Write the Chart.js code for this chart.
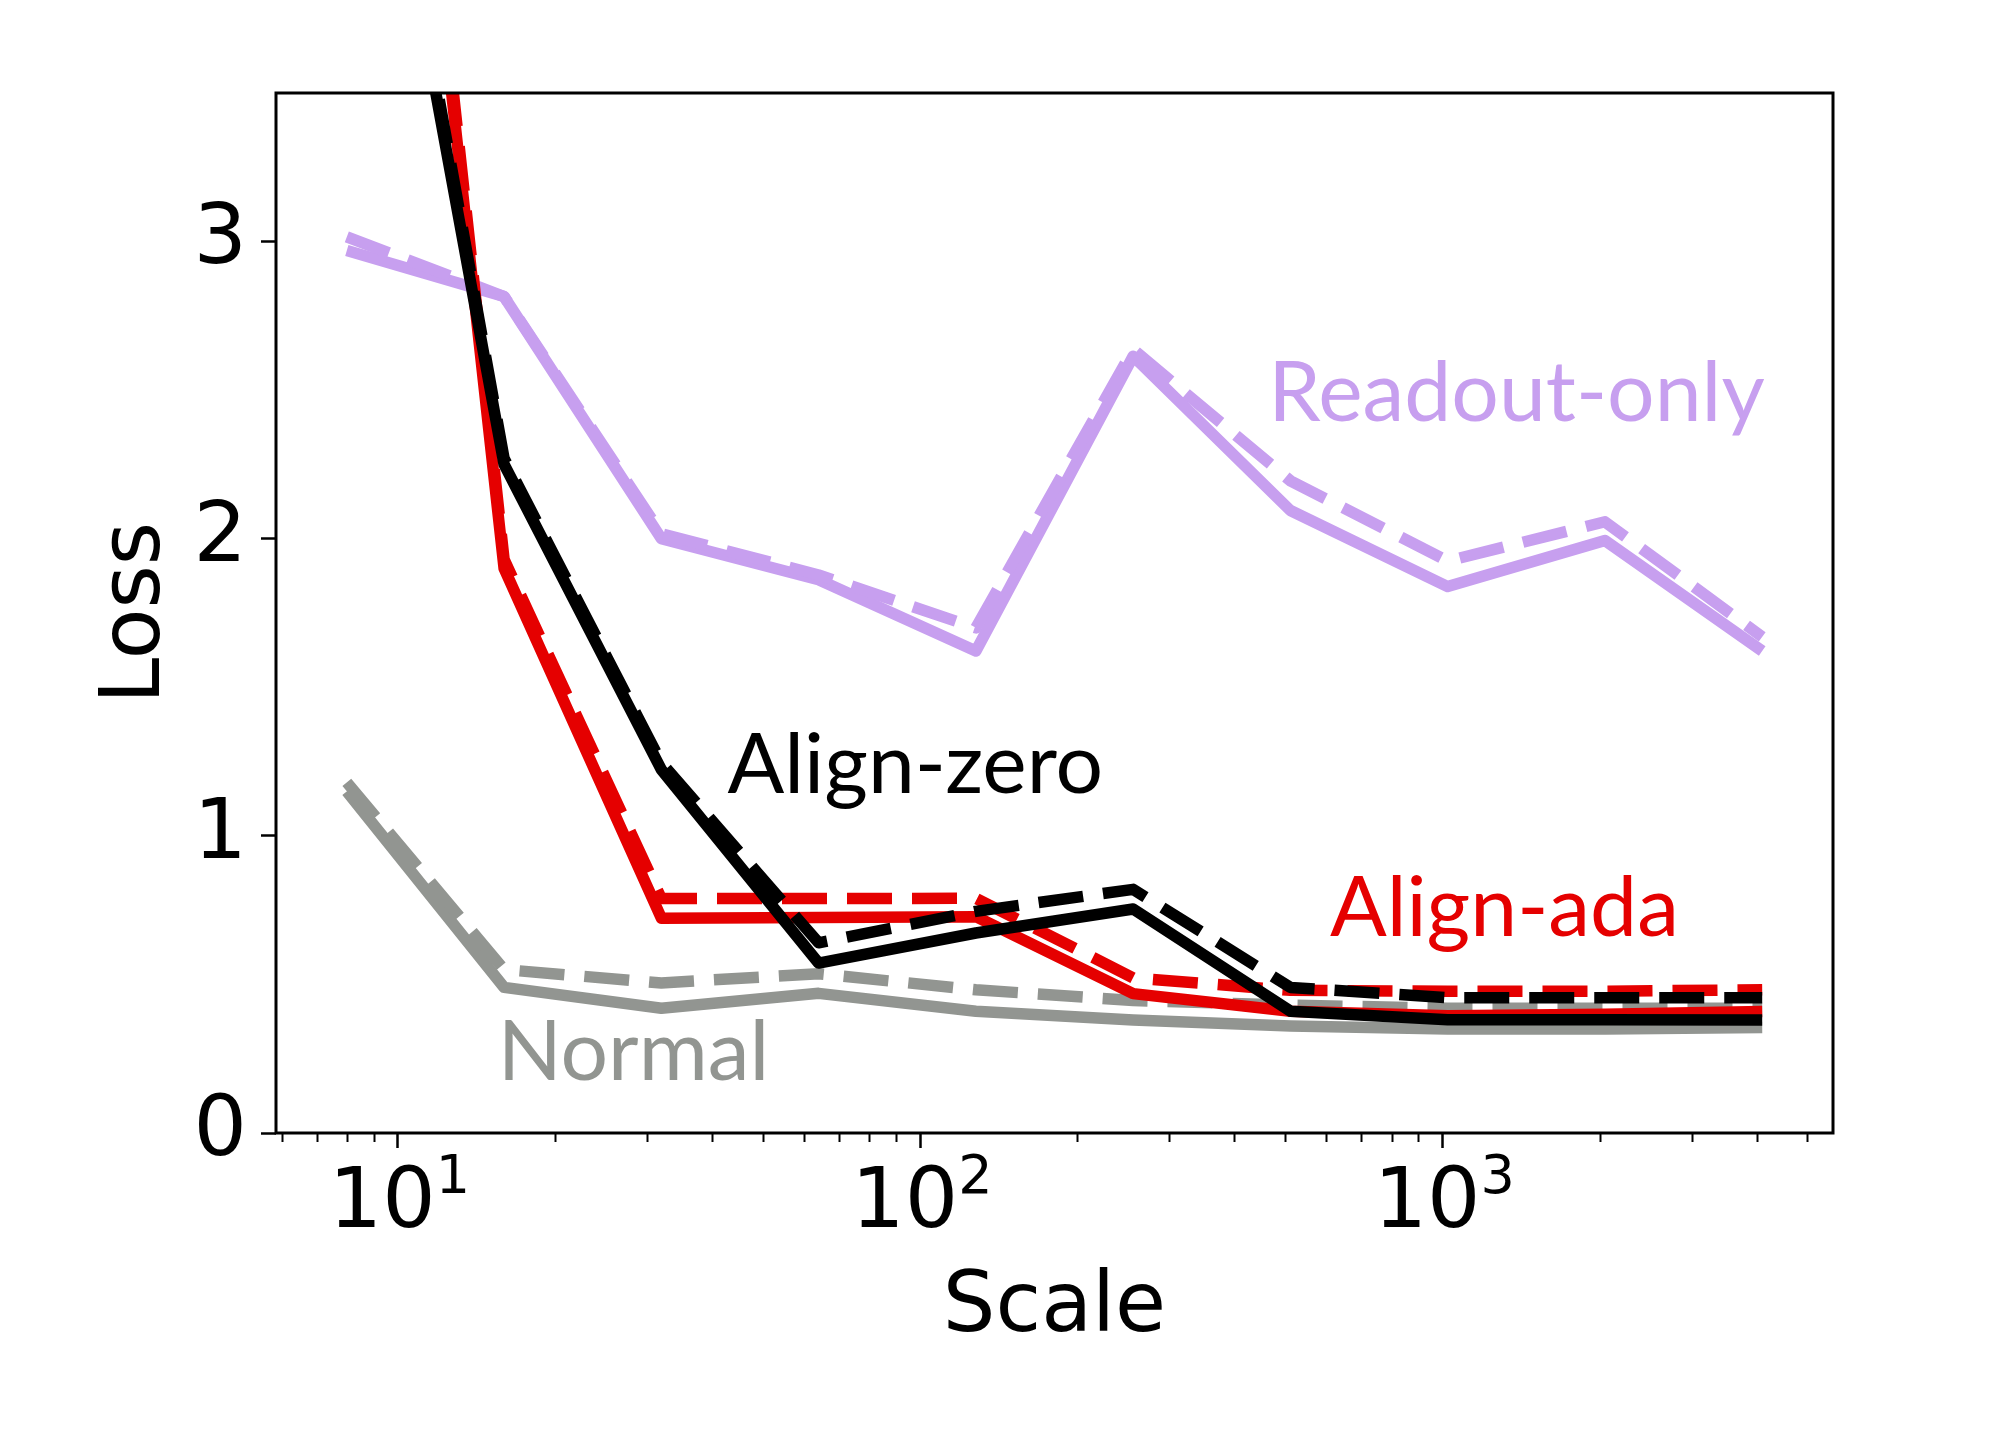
<!DOCTYPE html>
<html>
<head>
<meta charset="utf-8">
<script src="https://cdn.jsdelivr.net/npm/chart.js@4.4.1/dist/chart.umd.min.js"></script>
<style>
  html, body { margin: 0; padding: 0; background: #fff; }
  #wrap { width: 2004px; height: 1441px; }
</style>
</head>
<body>
<div id="wrap"><canvas id="grafico" width="2004" height="1441"></canvas></div>
<script>
// datos (Loss vs Scale, eje x logarítmico)
const scales = [8, 16, 32, 64, 128, 256, 512, 1024, 2048, 4096];

const normalSolid   = [1.15, 0.49, 0.42, 0.47, 0.41, 0.38, 0.36, 0.35, 0.35, 0.355];
const normalDashed  = [1.18, 0.55, 0.505, 0.536, 0.482, 0.446, 0.43, 0.42, 0.42, 0.42];
const readoutSolid  = [2.97, 2.815, 2.0, 1.862, 1.622, 2.614, 2.095, 1.839, 1.994, 1.622];
const readoutDashed = [3.016, 2.815, 2.017, 1.878, 1.70, 2.637, 2.195, 1.925, 2.057, 1.67];
const adaSolid      = [6.7, 1.90, 0.723, 0.725, 0.728, 0.469, 0.41, 0.395, 0.40, 0.409];
const adaDashed     = [6.8, 1.93, 0.789, 0.789, 0.79, 0.522, 0.48, 0.477, 0.477, 0.482];
const zeroSolid     = [5.13, 2.25, 1.223, 0.572, 0.673, 0.754, 0.41, 0.381, 0.381, 0.38];
const zeroDashed    = [5.2, 2.27, 1.246, 0.64, 0.746, 0.82, 0.49, 0.455, 0.455, 0.455];

// ticks
const yTicks = [0, 1, 2, 3];
const xMajor = [10, 100, 1000];
const xMinor = [6, 7, 8, 9, 20, 30, 40, 50, 60, 70, 80, 90,
                200, 300, 400, 500, 600, 700, 800, 900,
                2000, 3000, 4000, 5000];
const xMajorExp = ['1', '2', '3'];

// etiquetas dentro del gráfico
const labelTexts = ['Readout-only', 'Align-zero', 'Align-ada', 'Normal'];
const labelX = [474.8, 43.8, 623, 15.9];
const labelY = [2.397, 1.145, 0.662, 0.177];

const LAVENDER = '#c79fef';
const RED = '#e50000';
const GREY = '#929591';
const BLACK = '#000000';
const labelColors = [LAVENDER, BLACK, RED, GREY];

const AXIS_FONT = 'DejaVu Sans';
const DASH = [45, 20];

function serie(values, color, dashed){
  return {
    data: scales.map((s, i) => ({ x: s, y: values[i] })),
    borderColor: color,
    borderWidth: 11.5,
    borderDash: dashed ? DASH : [],
    borderCapStyle: 'butt',
    borderJoinStyle: 'round',
    pointRadius: 0,
    tension: 0,
    fill: false,
    clip: 0
  };
}

// el primer dataset queda encima
const datasets = [
  serie(zeroDashed, BLACK, true),
  serie(zeroSolid, BLACK, false),
  serie(adaDashed, RED, true),
  serie(adaSolid, RED, false),
  serie(readoutDashed, LAVENDER, true),
  serie(readoutSolid, LAVENDER, false),
  serie(normalDashed, GREY, true),
  serie(normalSolid, GREY, false)
];

// marco, ticks del eje x, etiquetas 10^n y textos
const decor = {
  id: 'decor',
  afterDatasetsDraw(chart){
    const { ctx, chartArea: a, scales: { x, y } } = chart;
    ctx.save();

    // textos de las series
    ctx.font = '84px Lato';
    ctx.textAlign = 'left';
    ctx.textBaseline = 'alphabetic';
    labelTexts.forEach((t, i) => {
      ctx.fillStyle = labelColors[i];
      ctx.fillText(t, x.getPixelForValue(labelX[i]) - 5, y.getPixelForValue(labelY[i]));
    });

    // marco
    ctx.strokeStyle = '#000';
    ctx.lineWidth = 3;
    ctx.strokeRect(a.left, a.top, a.right - a.left, a.bottom - a.top);

    // ticks x
    const tick = (v, len, w) => {
      const px = Math.round(x.getPixelForValue(v)) + 0.5;
      ctx.lineWidth = w;
      ctx.beginPath();
      ctx.moveTo(px, a.bottom);
      ctx.lineTo(px, a.bottom + len);
      ctx.stroke();
    };
    xMinor.forEach(v => tick(v, 9, 2));
    xMajor.forEach(v => tick(v, 15, 2.5));

    // etiquetas 10^n
    ctx.fillStyle = '#000';
    xMajor.forEach((v, i) => {
      ctx.font = `84px ${AXIS_FONT}`;
      const wBase = ctx.measureText('10').width;
      ctx.font = `54px ${AXIS_FONT}`;
      const wExp = ctx.measureText(xMajorExp[i]).width;
      const x0 = x.getPixelForValue(v) - (wBase + wExp) / 2 + 2;
      ctx.font = `84px ${AXIS_FONT}`;
      ctx.fillText('10', x0, a.bottom + 94);
      ctx.font = `54px ${AXIS_FONT}`;
      ctx.fillText(xMajorExp[i], x0 + wBase, a.bottom + 60);
    });
    ctx.restore();
  }
};

const chart = new Chart(document.getElementById('grafico').getContext('2d'), {
  type: 'line',
  data: { datasets },
  options: {
    responsive: false,
    animation: false,
    devicePixelRatio: 1,
    layout: { padding: { top: 93, right: 171, left: 0, bottom: 0 } },
    plugins: { legend: { display: false }, tooltip: { enabled: false } },
    scales: {
      x: {
        type: 'logarithmic',
        min: 5.855,
        max: 5596,
        afterBuildTicks: s => { s.ticks = xMajor.map(v => ({ value: v })); },
        afterFit: s => { s.height = 308; },
        ticks: { display: false },
        grid: { display: false },
        border: { display: false },
        title: {
          display: true, text: 'Scale', color: '#000',
          font: { family: AXIS_FONT, size: 83 },
          padding: { top: 0, bottom: 82 }
        }
      },
      y: {
        min: 0,
        max: 3.5,
        afterBuildTicks: s => { s.ticks = yTicks.map(v => ({ value: v })); },
        afterFit: s => { s.width = 276; },
        ticks: {
          color: '#000',
          padding: 14,
          font: { family: AXIS_FONT, size: 84 },
          callback: v => String(v)
        },
        grid: {
          display: true, drawOnChartArea: false, drawTicks: true,
          tickLength: 15, tickWidth: 2.5, tickColor: '#000'
        },
        border: { display: false },
        title: {
          display: true, text: 'Loss', color: '#000',
          font: { family: AXIS_FONT, size: 83 },
          padding: { top: 88, bottom: 0 }
        }
      }
    }
  },
  plugins: [decor]
});
</script>
</body>
</html>
